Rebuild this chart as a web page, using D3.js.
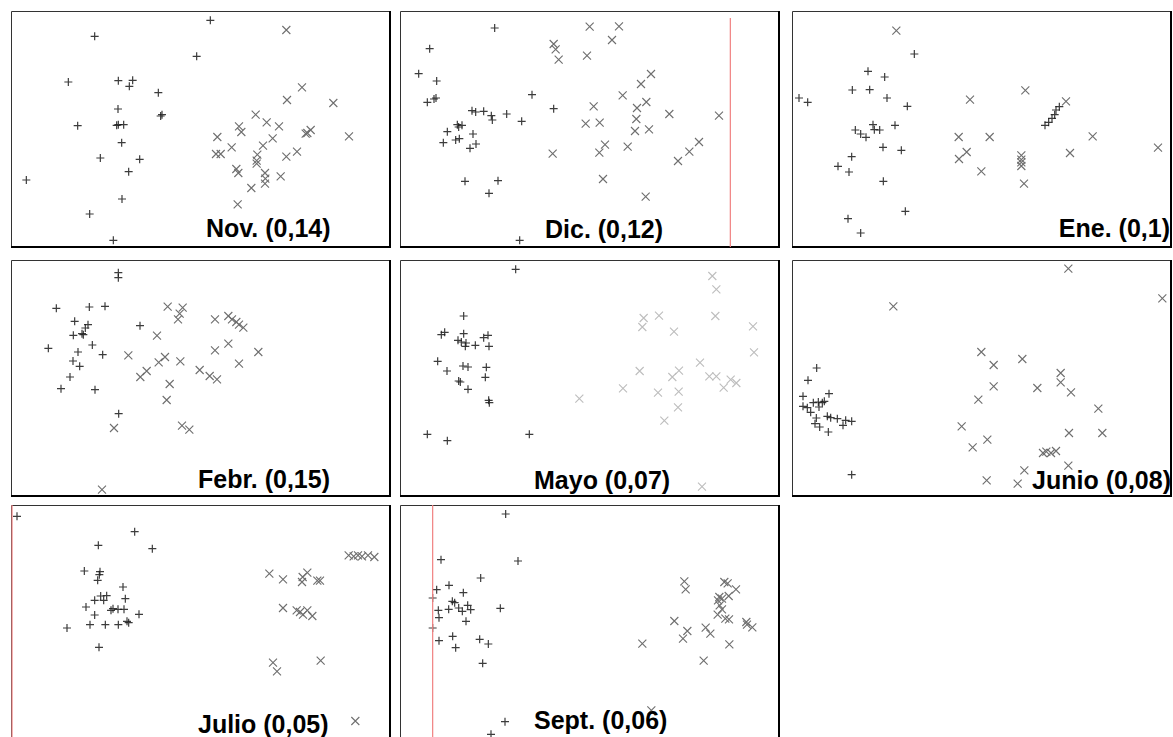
<!DOCTYPE html>
<html>
<head>
<meta charset="utf-8">
<script src="https://cdn.jsdelivr.net/npm/d3@7"></script>
<style>
  body { margin: 0; background: #fff; }
  svg { display: block; }
</style>
</head>
<body>
<svg width="1173" height="737"></svg>
<script>
// Panel titles
const titles = ["Nov. (0,14)", "Dic. (0,12)", "Ene. (0,1)", "Febr. (0,15)",
                "Mayo (0,07)", "Junio (0,08)", "Julio (0,05)", "Sept. (0,06)"];

// Scores, [x, y]; "+" = group 1, "x" = group 2
const novPlus = [[60.7,68.3],[26.0,63.5],[56.6,57.5],[18.1,49.8],[33.1,50.2],[37.4,50.3],[36.4,48.5],[45.1,46.6],[33.0,41.7],[46.2,40.0],[45.8,39.6],[20.9,36.7],[32.6,36.8],[33.1,37.0],[34.7,37.0],[34.1,31.6],[27.7,27.0],[39.5,26.6],[36.2,22.9],[5.5,20.4],[34.2,14.7],[24.5,10.2],[31.6,2.3]];
const novCross = [[83.5,65.4],[88.2,48.2],[83.7,44.4],[97.6,43.5],[74.3,40.0],[77.6,37.7],[69.3,36.5],[70.0,34.8],[81.3,36.5],[62.8,33.3],[90.8,35.4],[89.3,34.3],[89.8,34.5],[102.3,33.5],[79.4,32.9],[76.5,30.7],[67.1,30.2],[62.4,28.2],[63.8,28.2],[74.8,28.0],[74.6,26.2],[74.6,25.3],[86.7,28.9],[83.5,27.4],[68.5,23.7],[69.1,22.5],[77.1,22.5],[77.2,20.8],[77.1,19.3],[81.8,21.5],[73.0,18.0],[68.9,13.1]];

const dicPlus = [[29.3,66.0],[9.8,59.8],[6.5,52.3],[11.9,50.1],[40.5,46.0],[9.1,43.7],[11.1,44.7],[11.7,45.0],[22.5,41.2],[23.6,40.8],[26.0,41.0],[28.3,39.7],[28.6,38.4],[32.9,40.2],[37.4,38.0],[47.0,41.8],[18.1,37.0],[19.5,36.8],[18.5,36.3],[15.1,34.9],[22.8,34.2],[13.9,31.6],[17.6,32.4],[18.7,32.8],[23.7,31.2],[21.9,29.9],[20.4,20.0],[30.3,20.2],[27.6,16.4],[36.8,2.3]];
const dicCross = [[57.8,66.4],[66.6,66.5],[64.5,62.4],[47.0,61.2],[47.6,59.6],[48.5,56.5],[57.0,57.7],[76.2,52.2],[73.2,49.2],[67.7,45.8],[74.8,43.8],[72.0,42.0],[59.0,42.5],[81.7,40.2],[96.6,39.7],[71.8,38.7],[56.6,37.3],[60.8,37.6],[71.4,35.1],[75.6,35.6],[62.4,31.0],[60.7,28.6],[69.2,30.4],[46.7,28.3],[90.6,31.8],[87.7,28.9],[84.3,26.1],[61.8,20.7],[74.6,15.4]];

const enePlus = [[37.6,58.2],[23.7,53.0],[28.7,51.3],[19.0,47.4],[24.2,47.5],[29.4,45.0],[3.0,45.0],[5.6,43.7],[35.5,42.5],[25.2,37.0],[31.8,36.8],[19.9,35.4],[25.6,35.5],[27.2,35.4],[21.5,34.2],[23.1,33.2],[28.2,30.2],[33.7,29.3],[18.8,27.4],[14.7,24.5],[18.0,22.8],[28.3,20.0],[34.9,11.0],[17.7,8.8],[21.5,4.5],[76.8,36.8],[77.9,37.7],[78.9,38.9],[79.7,40.0],[80.1,41.4],[81.1,42.4]];
const eneCross = [[32.2,65.2],[70.9,47.3],[54.3,44.5],[83.1,44.0],[50.9,33.3],[60.2,33.3],[91.1,33.5],[110.7,30.1],[53.3,28.8],[51.0,26.7],[84.3,28.5],[69.7,27.8],[69.7,26.5],[69.7,25.7],[69.7,24.6],[57.7,23.0],[70.5,19.3]];

const febPlus = [[33.1,67.3],[33.1,65.8],[14.5,56.6],[24.4,57.0],[29.1,57.2],[20.0,52.7],[24.0,51.7],[23.2,50.7],[22.2,49.0],[19.6,48.5],[22.6,48.7],[39.6,51.4],[12.1,44.6],[25.3,45.6],[21.0,43.5],[28.4,42.7],[19.5,40.8],[21.5,39.2],[18.6,36.0],[15.9,32.5],[26.1,32.2],[33.2,25.0]];
const febCross = [[47.9,57.1],[52.4,56.8],[51.5,55.0],[51.0,53.3],[62.1,53.3],[66.1,54.3],[67.2,53.3],[68.5,52.5],[69.3,51.7],[70.6,50.8],[44.7,48.4],[66.1,46.0],[62.1,44.0],[75.1,43.5],[36.1,42.5],[47.1,42.0],[45.2,40.4],[51.7,40.7],[69.3,40.0],[41.6,37.8],[39.7,36.0],[57.5,38.1],[60.5,36.3],[62.7,35.3],[48.5,33.9],[47.6,29.1],[52.2,21.4],[54.4,20.2],[31.8,20.7],[28.2,2.2]];

const mayPlus = [[35.6,68.3],[20.0,54.3],[13.3,48.7],[14.3,49.4],[20.0,49.0],[18.3,47.0],[19.3,46.5],[20.7,46.2],[20.5,45.2],[23.5,45.5],[26.0,47.8],[27.3,48.5],[27.6,45.2],[12.2,40.7],[15.0,37.8],[19.8,39.3],[21.3,39.0],[26.8,38.9],[26.5,35.9],[18.5,34.8],[19.0,34.5],[21.3,32.3],[27.5,29.0],[27.7,28.3],[9.1,18.8],[15.1,16.9],[39.7,18.8]];
const mayCross = [[94.6,66.3],[95.8,62.3],[95.5,54.3],[74.0,53.7],[78.6,54.4],[73.6,51.0],[83.1,49.6],[106.8,51.2],[107.1,43.4],[90.9,40.3],[72.8,37.8],[84.6,37.9],[82.6,36.0],[93.7,36.2],[95.8,36.2],[100.1,35.2],[101.8,34.2],[98.0,32.8],[67.8,32.6],[78.3,31.3],[84.5,31.6],[54.7,29.5],[84.3,26.9],[80.2,22.9],[91.5,3.1]];

const junPlus = [[8.3,38.7],[5.7,35.0],[4.2,30.2],[12.0,31.0],[4.2,27.2],[5.5,26.8],[7.3,28.3],[8.8,28.5],[10.0,28.3],[10.6,28.7],[9.0,27.0],[6.5,25.4],[8.2,23.7],[11.5,24.2],[12.5,23.8],[14.5,23.5],[17.0,23.0],[18.8,22.7],[16.2,21.5],[7.8,22.0],[9.2,21.0],[11.8,19.5],[18.8,6.7]];
const junCross = [[83.8,68.5],[112.0,59.6],[31.3,57.2],[57.7,43.5],[61.4,39.6],[70.0,41.4],[61.4,33.2],[74.5,32.7],[81.5,37.2],[81.5,34.4],[84.6,31.4],[56.8,29.2],[92.8,26.5],[51.8,21.2],[84.0,19.2],[94.0,19.2],[59.5,17.2],[55.1,14.9],[76.2,13.2],[77.2,13.6],[78.6,13.2],[80.1,13.8],[83.8,9.4],[70.6,8.0],[59.3,5.0],[68.6,4.0]];

const julPlus = [[2.7,67.7],[38.0,63.1],[27.1,59.0],[43.3,58.0],[22.9,51.3],[27.6,51.1],[27.4,50.2],[26.9,48.5],[34.5,46.5],[27.8,43.8],[29.6,43.9],[26.0,42.5],[28.7,42.5],[35.2,43.0],[23.4,40.5],[31.5,40.0],[33.0,39.8],[34.8,39.8],[30.9,39.5],[26.0,38.1],[39.3,38.3],[35.7,36.2],[24.6,35.2],[29.2,35.2],[33.1,35.2],[36.2,35.8],[17.7,34.2],[27.3,28.4]];
const julCross = [[78.4,50.5],[82.5,48.8],[88.4,49.5],[89.8,50.8],[88.2,48.0],[92.8,48.4],[93.6,48.4],[102.2,56.0],[103.7,55.7],[105.0,56.0],[106.2,55.7],[108.0,56.0],[109.9,55.5],[82.5,40.2],[86.6,39.5],[87.6,39.0],[88.5,38.2],[89.8,39.5],[91.3,37.8],[79.5,23.8],[80.7,21.2],[93.8,24.4],[104.2,6.3]];

const sepPlus = [[32.6,68.4],[13.2,54.7],[36.3,54.3],[25.1,49.2],[11.9,45.7],[15.6,47.0],[19.9,44.8],[10.7,43.2],[16.6,42.2],[17.3,41.8],[15.5,39.8],[12.4,39.5],[18.5,40.2],[19.6,39.2],[21.2,41.0],[22.1,39.7],[31.0,40.1],[12.6,37.3],[20.7,36.2],[10.7,34.2],[12.6,30.4],[16.7,31.7],[17.6,28.3],[24.8,30.8],[27.4,29.4],[25.7,23.6],[32.4,6.1],[28.2,2.3]];
const sepCross = [[86.2,48.2],[86.6,45.8],[98.2,48.0],[99.2,47.6],[101.7,45.8],[96.7,43.5],[97.5,43.0],[96.3,42.5],[99.5,43.8],[96.8,41.0],[97.5,39.8],[96.2,38.2],[98.5,37.0],[99.6,36.8],[83.2,36.3],[87.1,33.3],[85.8,31.0],[92.6,34.3],[94.0,32.5],[104.8,36.0],[105.0,35.2],[106.6,34.4],[99.7,29.3],[73.6,29.5],[92.0,24.4],[76.3,9.5]];

// red reference lines (x score, top y score) per panel, null if none
const refLines = [null, [100.0, 69.0], null, null, null, null, [1.2, 71.1], [10.7, 71.1]];

const plusSets = [novPlus, dicPlus, enePlus, febPlus, mayPlus, junPlus, julPlus, sepPlus];
const crossSets = [novCross, dicCross, eneCross, febCross, mayCross, junCross, julCross, sepCross];

// layout
const W = 379, H = 236;
const colX = [11, 400, 792];
const rowY = [11, 260, 505];
const labelPos = [
  {x: 195, y: 226, anchor: "start"},
  {x: 145, y: 227, anchor: "start"},
  {x: 378, y: 226, anchor: "end"},
  {x: 187, y: 228, anchor: "start"},
  {x: 134, y: 229, anchor: "start"},
  {x: 379, y: 229, anchor: "end"},
  {x: 187, y: 228, anchor: "start"},
  {x: 134, y: 224, anchor: "start"}
];

const x = d3.scaleLinear().domain([0.9, 114.6]).range([0, W]);
const y = d3.scaleLinear().domain([0.3, 71.1]).range([H, 0]);

const svg = d3.select("svg");
svg.append("rect").attr("width", 1173).attr("height", 737).attr("fill", "#fff");

const plusPath = "M-4,0H4M0,-4V4";
const crossPath = "M-4,-4L4,4M-4,4L4,-4";

titles.forEach((t, i) => {
  const px = colX[i % 3], py = rowY[Math.floor(i / 3)];
  const g = svg.append("g").attr("transform", `translate(${px},${py})`);

  g.append("clipPath").attr("id", "clip" + i)
    .append("rect").attr("width", W).attr("height", H);

  const inner = g.append("g").attr("clip-path", `url(#clip${i})`);

  inner.selectAll("path.cross")
    .data(crossSets[i])
    .enter()
    .append("path")
    .attr("class", "cross")
    .attr("transform", d => `translate(${x(d[0])},${y(d[1])})`)
    .attr("d", crossPath)
    .attr("fill", "none")
    .attr("stroke", i === 4 ? "#bdbdbd" : "#6e6e6e")
    .attr("stroke-width", 1.1);

  inner.selectAll("path.plus")
    .data(plusSets[i])
    .enter()
    .append("path")
    .attr("class", "plus")
    .attr("transform", d => `translate(${x(d[0])},${y(d[1])})`)
    .attr("d", plusPath)
    .attr("fill", "none")
    .attr("stroke", "#1a1a1a")
    .attr("stroke-opacity", 0.85)
    .attr("stroke-width", 1.2);

  // frame: thin top/left, heavier bottom/right
  g.append("path")
    .attr("d", `M0.5,${H}V0.5H${W}`)
    .attr("fill", "none")
    .attr("stroke", "#333")
    .attr("stroke-width", 1);
  g.append("path")
    .attr("d", `M${W},0V${H}H0`)
    .attr("fill", "none")
    .attr("stroke", "#000")
    .attr("stroke-width", 2);

  if (refLines[i]) {
    g.append("line")
      .attr("x1", x(refLines[i][0])).attr("x2", x(refLines[i][0]))
      .attr("y1", y(refLines[i][1])).attr("y2", H)
      .attr("stroke", "#f08080")
      .attr("stroke-width", 1.2);
  }

  g.append("text")
    .attr("x", labelPos[i].x)
    .attr("y", labelPos[i].y)
    .attr("text-anchor", labelPos[i].anchor)
    .attr("font-family", "Liberation Sans, Arial, sans-serif")
    .attr("font-weight", "bold")
    .attr("font-size", "25px")
    .attr("fill", "#000")
    .text(t);
});
</script>
</body>
</html>
